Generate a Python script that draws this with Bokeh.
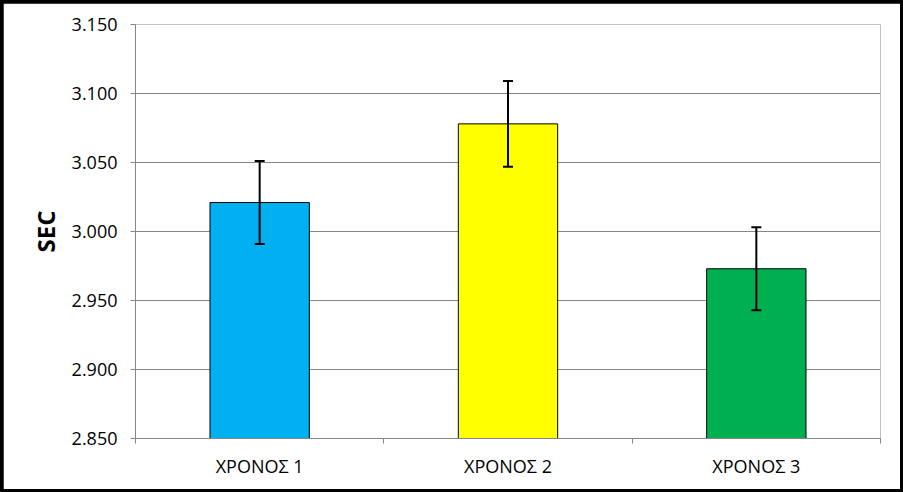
from bokeh.plotting import figure
from bokeh.layouts import column
from bokeh.models import ColumnDataSource, Whisker, FixedTicker, Range1d, TeeHead
from bokeh.embed import file_html
from bokeh.resources import INLINE

categories = ["ΧΡΟΝΟΣ 1", "ΧΡΟΝΟΣ 2", "ΧΡΟΝΟΣ 3"]
means = [3.021, 3.078, 2.973]
errors = [0.030, 0.031, 0.030]
colors = ["#00B0F0", "#FFFF00", "#00B050"]
y_ticks = [2.85, 2.90, 2.95, 3.00, 3.05, 3.10, 3.15]

xs = [i + 0.5 for i in range(len(categories))]
src = ColumnDataSource(dict(
    x=xs, top=means, color=colors,
    upper=[m + e for m, e in zip(means, errors)],
    lower=[m - e for m, e in zip(means, errors)],
))

p = figure(width=897, height=486, output_backend="svg", toolbar_location=None,
           x_range=Range1d(0, len(categories)), y_range=Range1d(y_ticks[0], y_ticks[-1]),
           min_border_left=132, min_border_right=20, min_border_top=21, min_border_bottom=51)
p.outline_line_color = None
p.background_fill_color = "white"
p.border_fill_color = "white"

p.vbar(x="x", top="top", bottom=y_ticks[0], width=0.4, fill_color="color",
       line_color="black", line_width=1, source=src)
w = Whisker(base="x", upper="upper", lower="lower", source=src,
            line_color="black", line_width=2, level="overlay",
            upper_head=TeeHead(size=10, line_color="black", line_width=2),
            lower_head=TeeHead(size=10, line_color="black", line_width=2))
p.add_layout(w)

# x axis
p.xaxis.ticker = FixedTicker(ticks=xs, minor_ticks=list(range(len(categories) + 1)))
p.xaxis.major_label_overrides = {x: c for x, c in zip(xs, categories)}
p.xaxis.major_tick_out = 0
p.xaxis.major_tick_in = 0
p.xaxis.minor_tick_out = 5
p.xaxis.minor_tick_in = 0
p.xaxis.minor_tick_line_color = "#868686"
p.xaxis.axis_line_color = "#868686"
p.xaxis.major_label_standoff = 10
p.xaxis.major_label_text_font = "Open Sans"
p.xaxis.major_label_text_font_size = "18px"
p.xaxis.major_label_text_color = "black"

# y axis
p.yaxis.ticker = FixedTicker(ticks=y_ticks)
p.yaxis.major_label_overrides = {t: f"{t:.3f}" for t in y_ticks}
p.yaxis.major_tick_out = 5
p.yaxis.major_tick_in = 0
p.yaxis.minor_tick_line_color = None
p.yaxis.major_tick_line_color = "#868686"
p.yaxis.axis_line_color = "#868686"
p.yaxis.major_label_standoff = 13
p.yaxis.major_label_text_font = "Open Sans"
p.yaxis.major_label_text_font_size = "18px"
p.yaxis.major_label_text_color = "black"
p.yaxis.axis_label = "SEC"
p.yaxis.axis_label_text_font = "Open Sans"
p.yaxis.axis_label_text_font_style = "bold"
p.yaxis.axis_label_text_font_size = "24px"
p.yaxis.axis_label_text_color = "black"
p.yaxis.axis_label_standoff = 7

p.xgrid.grid_line_color = None
p.ygrid.grid_line_color = "#868686"
p.ygrid.ticker = FixedTicker(ticks=y_ticks)

layout = column(p, styles={"background-color": "black", "padding": "3px"})

open("out.html", "w").write(file_html(layout, INLINE))
